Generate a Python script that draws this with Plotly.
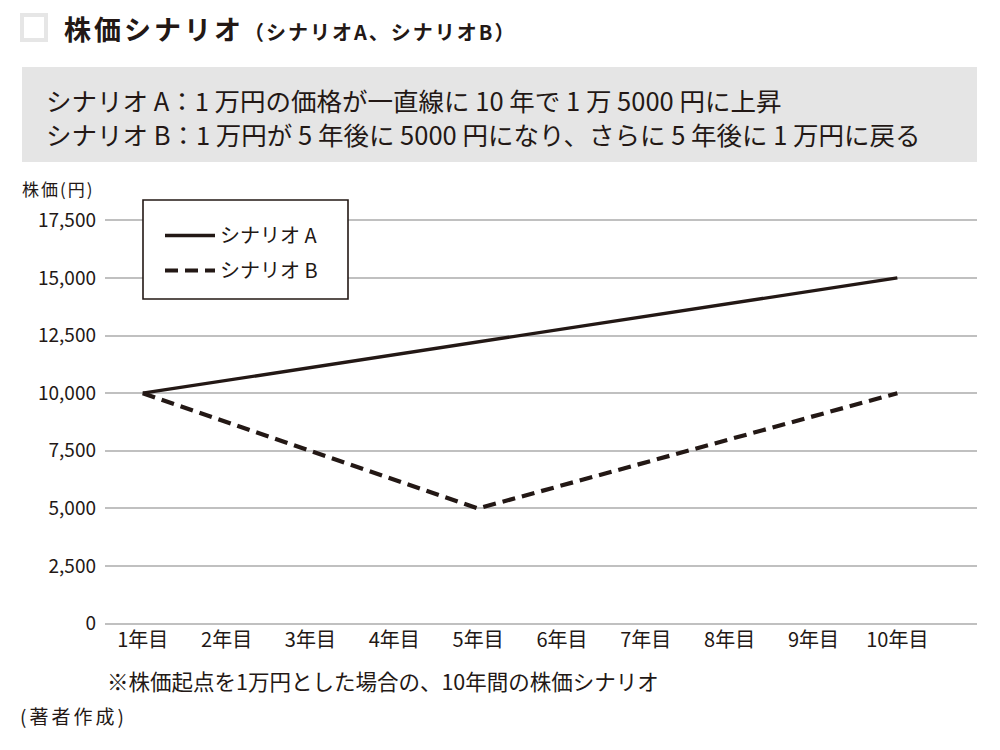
import plotly.graph_objects as go

# ---- data ----
years = ["1年目", "2年目", "3年目", "4年目", "5年目", "6年目", "7年目", "8年目", "9年目", "10年目"]
scenario_a_x = ["1年目", "10年目"]
scenario_a_y = [10000, 15000]
scenario_b_x = ["1年目", "5年目", "10年目"]
scenario_b_y = [10000, 5000, 10000]
y_ticks = [0, 2500, 5000, 7500, 10000, 12500, 15000, 17500]
name_a = "シナリオ A"
name_b = "シナリオ B"

FONT = "Noto Sans CJK JP"
INK = "#231815"

# ---- layout geometry (pixels) ----
WIDTH, HEIGHT = 1000, 750
L, R, T, Bm = 105, 23, 218, 124
W = WIDTH - L - R
H = HEIGHT - T - Bm
PB = HEIGHT - Bm


def px(x):
    return (x - L) / W


def py(y):
    return (PB - y) / H


fig = go.Figure()
fig.add_trace(go.Scatter(
    x=scenario_a_x, y=scenario_a_y, mode="lines", name=name_a,
    line=dict(color=INK, width=3.4), legendgroup="a",
))
fig.add_trace(go.Scatter(
    x=scenario_b_x, y=scenario_b_y, mode="lines", name=name_b,
    line=dict(color=INK, width=4.2, dash="13px,7px"), legendgroup="b",
))

shapes = [
    # title icon
    dict(type="rect", xref="paper", yref="paper",
         x0=px(22), x1=px(46), y0=py(40), y1=py(15),
         line=dict(color="#e6e6e6", width=4), fillcolor="white", layer="above"),
    # gray description box
    dict(type="rect", xref="paper", yref="paper",
         x0=px(22), x1=px(977), y0=py(162), y1=py(67),
         line=dict(width=0), fillcolor="#e5e5e5", layer="below"),
    # legend box
    dict(type="rect", xref="paper", yref="paper",
         x0=px(143), x1=px(348), y0=py(299), y1=py(200),
         line=dict(color=INK, width=1.6), fillcolor="white", layer="above"),
]

annotations = [
    dict(text="<span style='letter-spacing:3px'><b>株価シナリオ</b></span>"
              "<span style='font-size:20px;letter-spacing:2px'><b>（シナリオA、シナリオB）</b></span>",
         x=px(62), y=py(28), xanchor="left", yanchor="middle",
         font=dict(size=27, color=INK, family=FONT)),
    dict(text="シナリオ A：1 万円の価格が一直線に 10 年で 1 万 5000 円に上昇",
         x=px(44), y=py(100), xanchor="left", yanchor="middle",
         font=dict(size=25.5, color=INK, family=FONT)),
    dict(text="シナリオ B：1 万円が 5 年後に 5000 円になり、さらに 5 年後に 1 万円に戻る",
         x=px(44), y=py(133), xanchor="left", yanchor="middle",
         font=dict(size=25.5, color=INK, family=FONT)),
    dict(text="<span style='letter-spacing:2px'>株価(円)</span>",
         x=px(20), y=py(188), xanchor="left", yanchor="middle",
         font=dict(size=17, color=INK, family=FONT)),
    dict(text="※株価起点を1万円とした場合の、10年間の株価シナリオ",
         x=px(105), y=py(680), xanchor="left", yanchor="middle",
         font=dict(size=21.5, color=INK, family=FONT)),
    dict(text="<span style='letter-spacing:3px'>(著者作成)</span>",
         x=px(18), y=py(715), xanchor="left", yanchor="middle",
         font=dict(size=19, color=INK, family=FONT)),
]
for a in annotations:
    a.update(xref="paper", yref="paper", showarrow=False)

fig.update_layout(
    width=WIDTH, height=HEIGHT,
    margin=dict(l=L, r=R, t=T, b=Bm, pad=0),
    paper_bgcolor="white", plot_bgcolor="white",
    font=dict(family=FONT, color=INK),
    shapes=shapes, annotations=annotations,
    showlegend=True,
    legend=dict(
        x=px(160), y=py(216), xanchor="left", yanchor="top",
        bgcolor="rgba(0,0,0,0)", borderwidth=0,
        font=dict(size=20, color=INK, family=FONT),
        itemwidth=50, tracegroupgap=6,
    ),
    xaxis=dict(
        type="category", categoryorder="array", categoryarray=years,
        tickvals=years, range=[-0.45, 9.95],
        showgrid=False, showline=False, zeroline=False, ticks="",
        tickfont=dict(size=20, color=INK, family=FONT),
    ),
    yaxis=dict(
        range=[-100, 17600], tickvals=y_ticks, tickformat=",d",
        showgrid=True, gridcolor="#c0c0c0", gridwidth=1.5,
        zeroline=False, showline=False, ticks="",
        ticklabelstandoff=8,
        tickfont=dict(size=19, color=INK, family=FONT),
    ),
)

fig.write_html("out.html")
